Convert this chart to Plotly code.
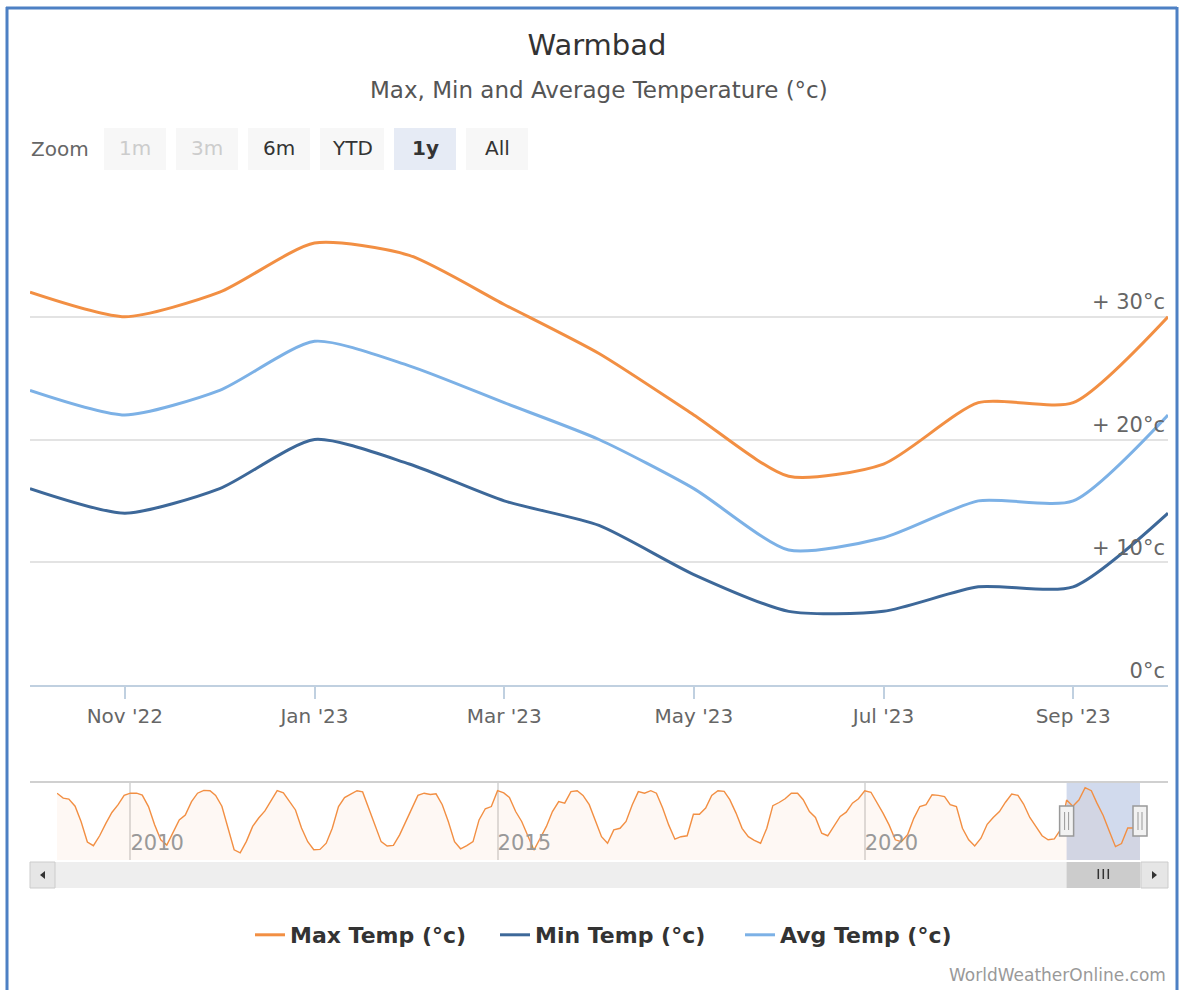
import plotly.graph_objects as go
import pandas as pd

# ---------------- data ----------------
months = ["Oct '22", "Nov '22", "Dec '22", "Jan '23", "Feb '23", "Mar '23", "Apr '23",
          "May '23", "Jun '23", "Jul '23", "Aug '23", "Sep '23", "Oct '23"]
max_temp = [32, 30, 32, 36, 35, 31, 27, 22, 17, 18, 23, 23, 30]
min_temp = [16, 14, 16, 20, 18, 15, 13, 9, 6, 6, 8, 8, 14]
avg_temp = [24, 22, 24, 28, 26, 23, 20, 16, 11, 12, 15, 15, 22]

y_tick_vals = [0, 10, 20, 30, 40]
y_tick_text = ["0°c", "+ 10°c", "+ 20°c", "+ 30°c", ""]

# navigator history of max temp, Jan 2009 .. Sep 2022 (monthly)
nav_hist = [
    34.2, 32.6, 32.3, 30.0, 25.0, 18.5, 17.3, 20.5, 24.5, 28.0, 30.5, 33.5,   # 2009
    34.2, 34.2, 33.6, 29.9, 24.1, 19.2, 17.5, 21.8, 25.6, 27.2, 31.5, 34.2,   # 2010
    35.1, 35.0, 33.5, 30.0, 23.0, 16.0, 15.0, 18.7, 23.5, 26.2, 28.5, 31.6,   # 2011
    35.0, 34.3, 31.6, 28.8, 23.0, 18.6, 16.0, 16.1, 18.1, 22.9, 29.9, 32.8,   # 2012
    33.9, 35.0, 34.6, 29.4, 24.0, 18.6, 17.2, 17.4, 20.8, 25.1, 29.4, 33.5,   # 2013
    34.2, 33.8, 34.0, 30.5, 25.1, 18.6, 16.3, 17.3, 18.6, 25.6, 29.2, 29.9,   # 2014
    35.0, 34.3, 32.8, 28.3, 25.1, 20.2, 15.9, 19.7, 23.5, 28.3, 31.5, 31.0,   # 2015
    34.7, 35.0, 33.5, 30.5, 25.1, 20.2, 18.1, 22.4, 22.9, 25.1, 30.5, 34.7,   # 2016
    34.2, 35.0, 34.2, 29.4, 24.0, 19.4, 20.2, 20.5, 27.4, 27.4, 29.4, 33.5,   # 2017
    35.0, 34.8, 32.1, 27.8, 22.9, 20.2, 19.0, 18.1, 22.9, 30.2, 31.2, 32.4,   # 2018
    34.2, 34.2, 32.1, 28.3, 26.4, 21.3, 20.5, 23.5, 26.7, 28.1, 31.0, 32.4,   # 2019
    35.0, 34.5, 31.3, 27.8, 24.0, 19.2, 18.6, 20.8, 26.1, 29.9, 30.5, 33.7,   # 2020
    33.5, 33.1, 30.5, 29.9, 22.9, 19.2, 17.2, 19.7, 24.2, 26.4, 28.3, 31.3,   # 2021
    33.9, 33.5, 30.7, 26.4, 23.5, 20.5, 19.2, 19.5, 22.5,                     # 2022 Jan-Sep
]
nav_max = nav_hist + max_temp
nav_dates = pd.date_range("2009-01-01", periods=len(nav_max), freq="MS")
nav_year_ticks = ["2010-01-01", "2015-01-01", "2020-01-01"]
nav_year_text = ["2010", "2015", "2020"]

zoom_buttons = ["1m", "3m", "6m", "YTD", "1y", "All"]

# ---------------- helpers ----------------
W, H = 1182, 990
def px(x):
    return x / W
def py(y):
    return 1 - y / H

FONT = "DejaVu Sans"
ORANGE = "#f28f43"
DARK = "#3d6899"
LIGHT = "#7cb1e6"
SMOOTH = 0.65

NAV_L, NAV_R = 57, 1140   # navigator x extent (pixels)
def nav_px(d):
    t0, t1 = nav_dates[0].value, nav_dates[-1].value
    return px(NAV_L + (pd.Timestamp(d).value - t0) / (t1 - t0) * (NAV_R - NAV_L))

fig = go.Figure()

fig.add_trace(go.Scatter(x=months, y=max_temp, name="Max Temp (°c)", mode="lines",
                         line=dict(color=ORANGE, width=3, shape="spline", smoothing=SMOOTH)))
fig.add_trace(go.Scatter(x=months, y=min_temp, name="Min Temp (°c)", mode="lines",
                         line=dict(color=DARK, width=3, shape="spline", smoothing=SMOOTH)))
fig.add_trace(go.Scatter(x=months, y=avg_temp, name="Avg Temp (°c)", mode="lines",
                         line=dict(color=LIGHT, width=3, shape="spline", smoothing=SMOOTH)))

# navigator series
fig.add_trace(go.Scatter(x=nav_dates, y=nav_max, xaxis="x2", yaxis="y2", mode="lines",
                         line=dict(color=ORANGE, width=1.4), fill="tozeroy",
                         fillcolor="rgba(242,143,67,0.06)", showlegend=False,
                         hoverinfo="skip"))

shapes = []
annotations = []

# blue frame
FRAME = "#4d80c4"
shapes.append(dict(type="line", xref="paper", yref="paper", x0=px(7), x1=px(7), y0=py(7), y1=py(995),
                   line=dict(color=FRAME, width=3)))
shapes.append(dict(type="line", xref="paper", yref="paper", x0=px(6), x1=px(1177), y0=py(8), y1=py(8),
                   line=dict(color=FRAME, width=3)))
shapes.append(dict(type="line", xref="paper", yref="paper", x0=px(1177), x1=px(1177), y0=py(7), y1=py(995),
                   line=dict(color=FRAME, width=3)))

# zoom buttons
annotations.append(dict(text="Zoom", xref="paper", yref="paper", x=px(29), y=py(149),
                        xanchor="left", yanchor="middle", showarrow=False,
                        font=dict(family=FONT, size=20, color="#666666")))
btn_x = [104, 176, 248, 320, 394, 466]
btn_w = [62, 62, 62, 64, 62, 62]
for lab, x0, w in zip(zoom_buttons, btn_x, btn_w):
    disabled = lab in ("1m", "3m")
    selected = lab == "1y"
    fill = "#e6ebf5" if selected else "#f7f7f7"
    shapes.append(dict(type="rect", xref="paper", yref="paper", x0=px(x0), x1=px(x0 + w),
                       y0=py(170), y1=py(128), fillcolor=fill, line=dict(width=0), layer="below"))
    color = "#cccccc" if disabled else "#333333"
    txt = "<b>%s</b>" % lab if selected else lab
    annotations.append(dict(text=txt, xref="paper", yref="paper", x=px(x0 + w / 2), y=py(148),
                            xanchor="center", yanchor="middle", showarrow=False,
                            font=dict(family=FONT, size=20, color=color)))

# subtitle
annotations.append(dict(text="Max, Min and Average Temperature (°c)", xref="paper", yref="paper",
                        x=px(599), y=py(90), xanchor="center", yanchor="middle", showarrow=False,
                        font=dict(family=FONT, size=23, color="#555555")))

# credit
annotations.append(dict(text="WorldWeatherOnline.com", xref="paper", yref="paper",
                        x=px(1168), y=py(975), xanchor="right", yanchor="middle", showarrow=False,
                        font=dict(family=FONT, size=17, color="#999999")))

# navigator outline (top line across)
shapes.append(dict(type="line", xref="paper", yref="paper", x0=px(30), x1=px(1168),
                   y0=py(782), y1=py(782), line=dict(color="#d0d0d0", width=2)))

# navigator selection mask
sel_start = nav_dates[-len(months)]
sel_end = nav_dates[-1]
shapes.append(dict(type="rect", xref="paper", yref="paper", x0=nav_px(sel_start), x1=nav_px(sel_end),
                   y0=py(860), y1=py(783), fillcolor="rgba(102,133,194,0.3)",
                   line=dict(width=0), layer="below"))

# scrollbar
shapes.append(dict(type="rect", xref="paper", yref="paper", x0=px(30), x1=px(1168),
                   y0=py(888), y1=py(862), fillcolor="#eeeeee", line=dict(width=0)))
shapes.append(dict(type="rect", xref="paper", yref="paper", x0=px(30), x1=px(55),
                   y0=py(888), y1=py(862), fillcolor="#e6e6e6", line=dict(color="#cccccc", width=1)))
shapes.append(dict(type="rect", xref="paper", yref="paper", x0=px(1141), x1=px(1168),
                   y0=py(888), y1=py(862), fillcolor="#e6e6e6", line=dict(color="#cccccc", width=1)))
shapes.append(dict(type="rect", xref="paper", yref="paper", x0=nav_px(sel_start), x1=nav_px(sel_end),
                   y0=py(888), y1=py(862), fillcolor="#cccccc", line=dict(width=0)))
# arrows
shapes.append(dict(type="path", xref="paper", yref="paper",
                   path="M %f %f L %f %f L %f %f Z" % (px(40), py(875), px(45), py(871), px(45), py(879)),
                   fillcolor="#333333", line=dict(width=0)))
shapes.append(dict(type="path", xref="paper", yref="paper",
                   path="M %f %f L %f %f L %f %f Z" % (px(1157), py(875), px(1152), py(871), px(1152), py(879)),
                   fillcolor="#333333", line=dict(width=0)))
# rifles on thumb
mid = (nav_px(sel_start) + nav_px(sel_end)) / 2
for dx in (-5, 0, 5):
    shapes.append(dict(type="line", xref="paper", yref="paper",
                       x0=mid + px(dx), x1=mid + px(dx), y0=py(879), y1=py(869),
                       line=dict(color="#333333", width=1.5)))

# navigator handles
for d in (sel_start, sel_end):
    c = nav_px(d)
    shapes.append(dict(type="rect", xref="paper", yref="paper",
                       x0=c - px(7), x1=c + px(7), y0=py(836), y1=py(806), fillcolor="#f2f2f2",
                       line=dict(color="#999999", width=1.5)))
    for dx in (-2, 2):
        shapes.append(dict(type="line", xref="paper", yref="paper",
                           x0=c + px(dx), x1=c + px(dx), y0=py(830), y1=py(812),
                           line=dict(color="#999999", width=1)))

fig.update_layout(
    width=W, height=H,
    margin=dict(l=0, r=0, t=0, b=0),
    paper_bgcolor="white", plot_bgcolor="rgba(0,0,0,0)",
    font=dict(family=FONT, color="#333333"),
    title=dict(text="Warmbad", x=px(597), y=py(45), xanchor="center", yanchor="middle",
               xref="paper", yref="paper", font=dict(family=FONT, size=29, color="#333333")),
    xaxis=dict(domain=[px(30), px(1168)], type="category", categoryorder="array",
               categoryarray=months, range=[0, len(months) - 1], anchor="y",
               tickmode="array", tickvals=months[1::2], ticktext=months[1::2],
               ticks="outside", ticklen=12, tickwidth=1.5, tickcolor="#c0d0e0",
               showline=True, linecolor="#c0d0e0", linewidth=2, showgrid=False,
               zeroline=False, tickfont=dict(family=FONT, size=20, color="#666666"),
               ticklabelstandoff=0, fixedrange=True),
    yaxis=dict(domain=[py(685), py(194)], range=[0, 40], anchor="x", side="right",
               tickmode="array", tickvals=y_tick_vals, ticktext=y_tick_text,
               ticklabelposition="inside top", ticks="", showline=False, zeroline=False,
               gridcolor="#e3e3e3", gridwidth=1.5,
               tickfont=dict(family=FONT, size=21, color="#666666"), fixedrange=True),
    xaxis2=dict(domain=[px(NAV_L), px(NAV_R)], type="date", anchor="y2",
                range=[nav_dates[0], nav_dates[-1]],
                tickmode="array", tickvals=nav_year_ticks, ticktext=nav_year_text,
                ticklabelposition="inside right", ticks="", showline=False, zeroline=False,
                showgrid=True, gridcolor="#dddddd", gridwidth=1.5,
                tickfont=dict(family=FONT, size=21, color="#999999"), fixedrange=True),
    yaxis2=dict(domain=[py(860), py(782)], range=[12.7, 37.8], anchor="x2",
                visible=False, showgrid=False, fixedrange=True),
    legend=dict(orientation="h", x=px(250), y=py(935), xanchor="left", yanchor="middle",
                font=dict(family=FONT, size=22, color="#333333", weight="bold"),
                bgcolor="rgba(0,0,0,0)", itemwidth=30, entrywidth=200, entrywidthmode="pixels"),
    shapes=shapes,
    annotations=annotations,
    showlegend=True,
    hovermode=False,
)

fig.write_html("out.html", config={"displayModeBar": False},
               post_script="document.body.style.margin='0';document.body.style.overflow='hidden';")
